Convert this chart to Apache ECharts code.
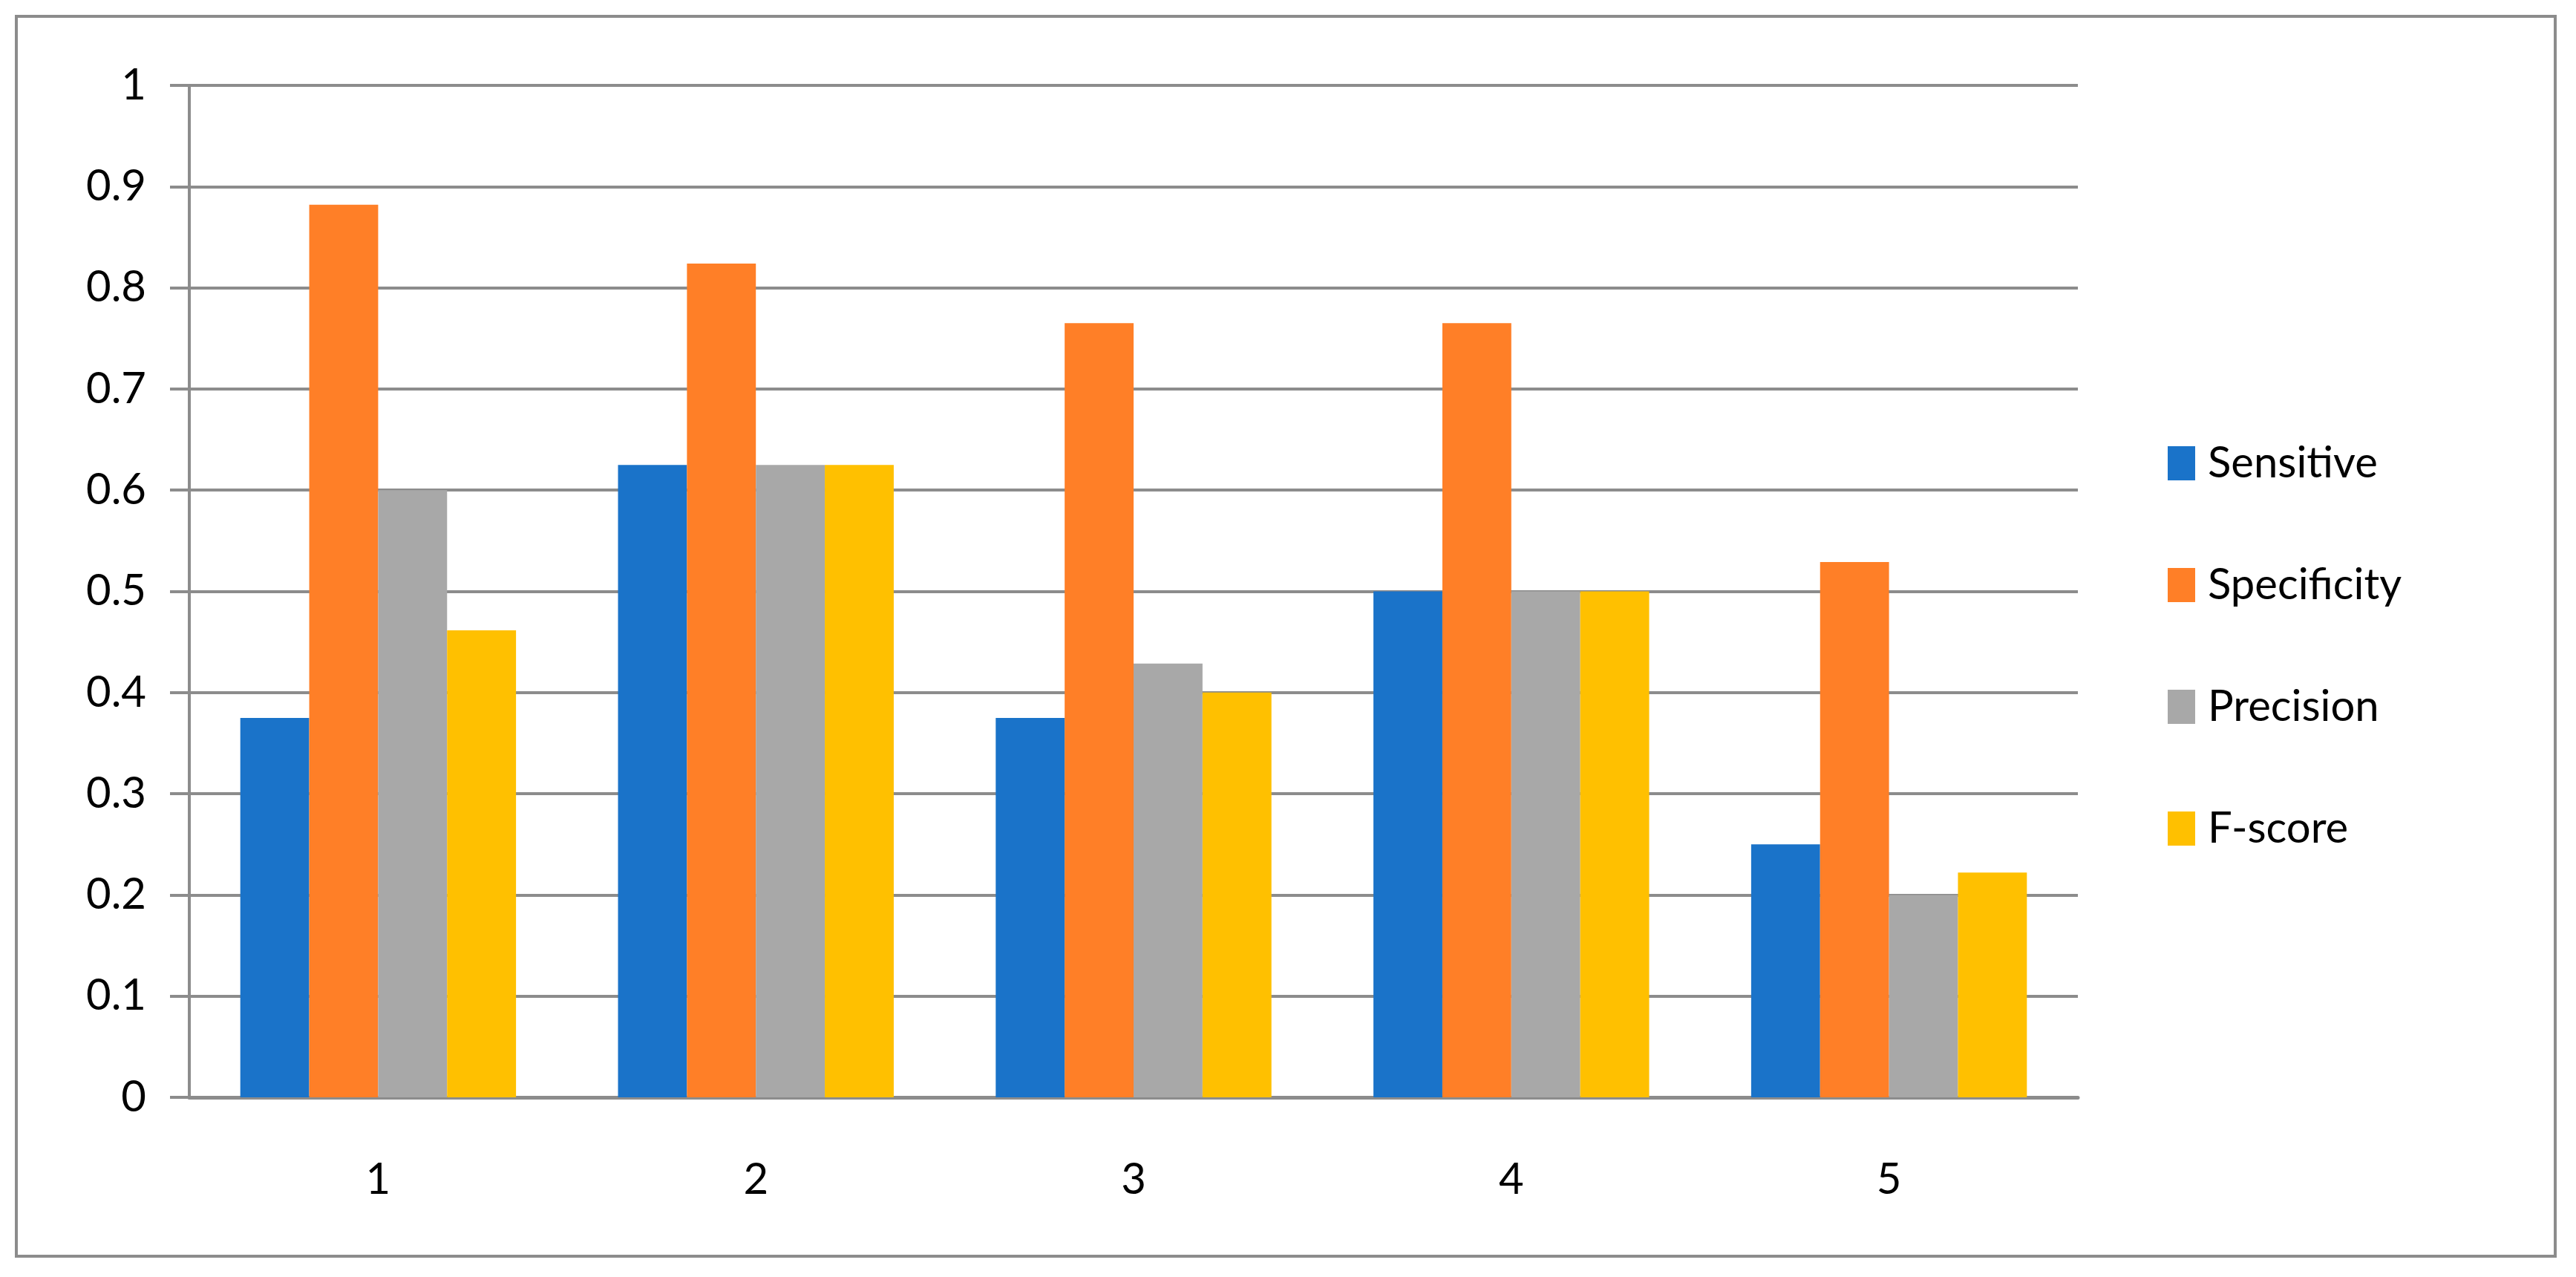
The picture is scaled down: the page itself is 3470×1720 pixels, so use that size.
<!DOCTYPE html>
<html><head><meta charset="utf-8">
<script src="https://cdn.jsdelivr.net/npm/echarts@6/dist/echarts.min.js"></script>
<style>html,body{margin:0;padding:0;background:#fff}#c{width:3470px;height:1720px}</style>
</head><body><div id="c"></div>
<script>
const categories = ['1','2','3','4','5'];
const sensitive = [0.375, 0.625, 0.375, 0.5, 0.25];
const specificity = [0.882, 0.824, 0.765, 0.765, 0.529];
const precision = [0.6, 0.625, 0.4286, 0.5, 0.2];
const fscore = [0.4615, 0.625, 0.4, 0.5, 0.2222];
const seriesNames = ['Sensitive','Specificity','Precision','F-score'];
const colors = ['#1a73c9','#ff7f27','#a8a8a8','#ffc000'];
const FONT = 'Lato';
const chart = echarts.init(document.getElementById('c'));
const data = [sensitive, specificity, precision, fscore];
chart.setOption({
  animation:false,
  color: colors,
  graphic:[{type:'rect',shape:{x:22,y:22,width:3420,height:1670},style:{fill:'none',stroke:'#8c8c8c',lineWidth:4},silent:true}],
  grid:{left:255,right:3470-2799,top:115,bottom:1720-1478},
  legend:{orient:'vertical',left:2915,top:590,itemWidth:37,itemHeight:46,itemGap:106,
    icon:'rect',textStyle:{fontFamily:FONT,fontSize:58,color:'#000',padding:[0,0,0,12]},data:seriesNames},
  xAxis:{type:'category',data:categories,
    axisLine:{lineStyle:{color:'#8c8c8c',width:5}},
    axisTick:{length:36,lineStyle:{color:'#8c8c8c',width:4}},
    axisLabel:{fontFamily:FONT,fontSize:58,color:'#000',margin:82}},
  yAxis:{type:'value',min:0,max:1,interval:0.1,
    axisLine:{show:true,lineStyle:{color:'#8c8c8c',width:4}},
    axisTick:{show:true,length:26,inside:false,lineStyle:{color:'#8c8c8c',width:4}},
    splitLine:{lineStyle:{color:'#8c8c8c',width:4}},
    axisLabel:{fontFamily:FONT,fontSize:58,color:'#000',margin:58,formatter:v=>String(+v.toFixed(1))}},
  series: seriesNames.map((n,i)=>({name:n,type:'bar',data:data[i],barGap:'0%',barCategoryGap:'27%'}))
});
</script></body></html>
